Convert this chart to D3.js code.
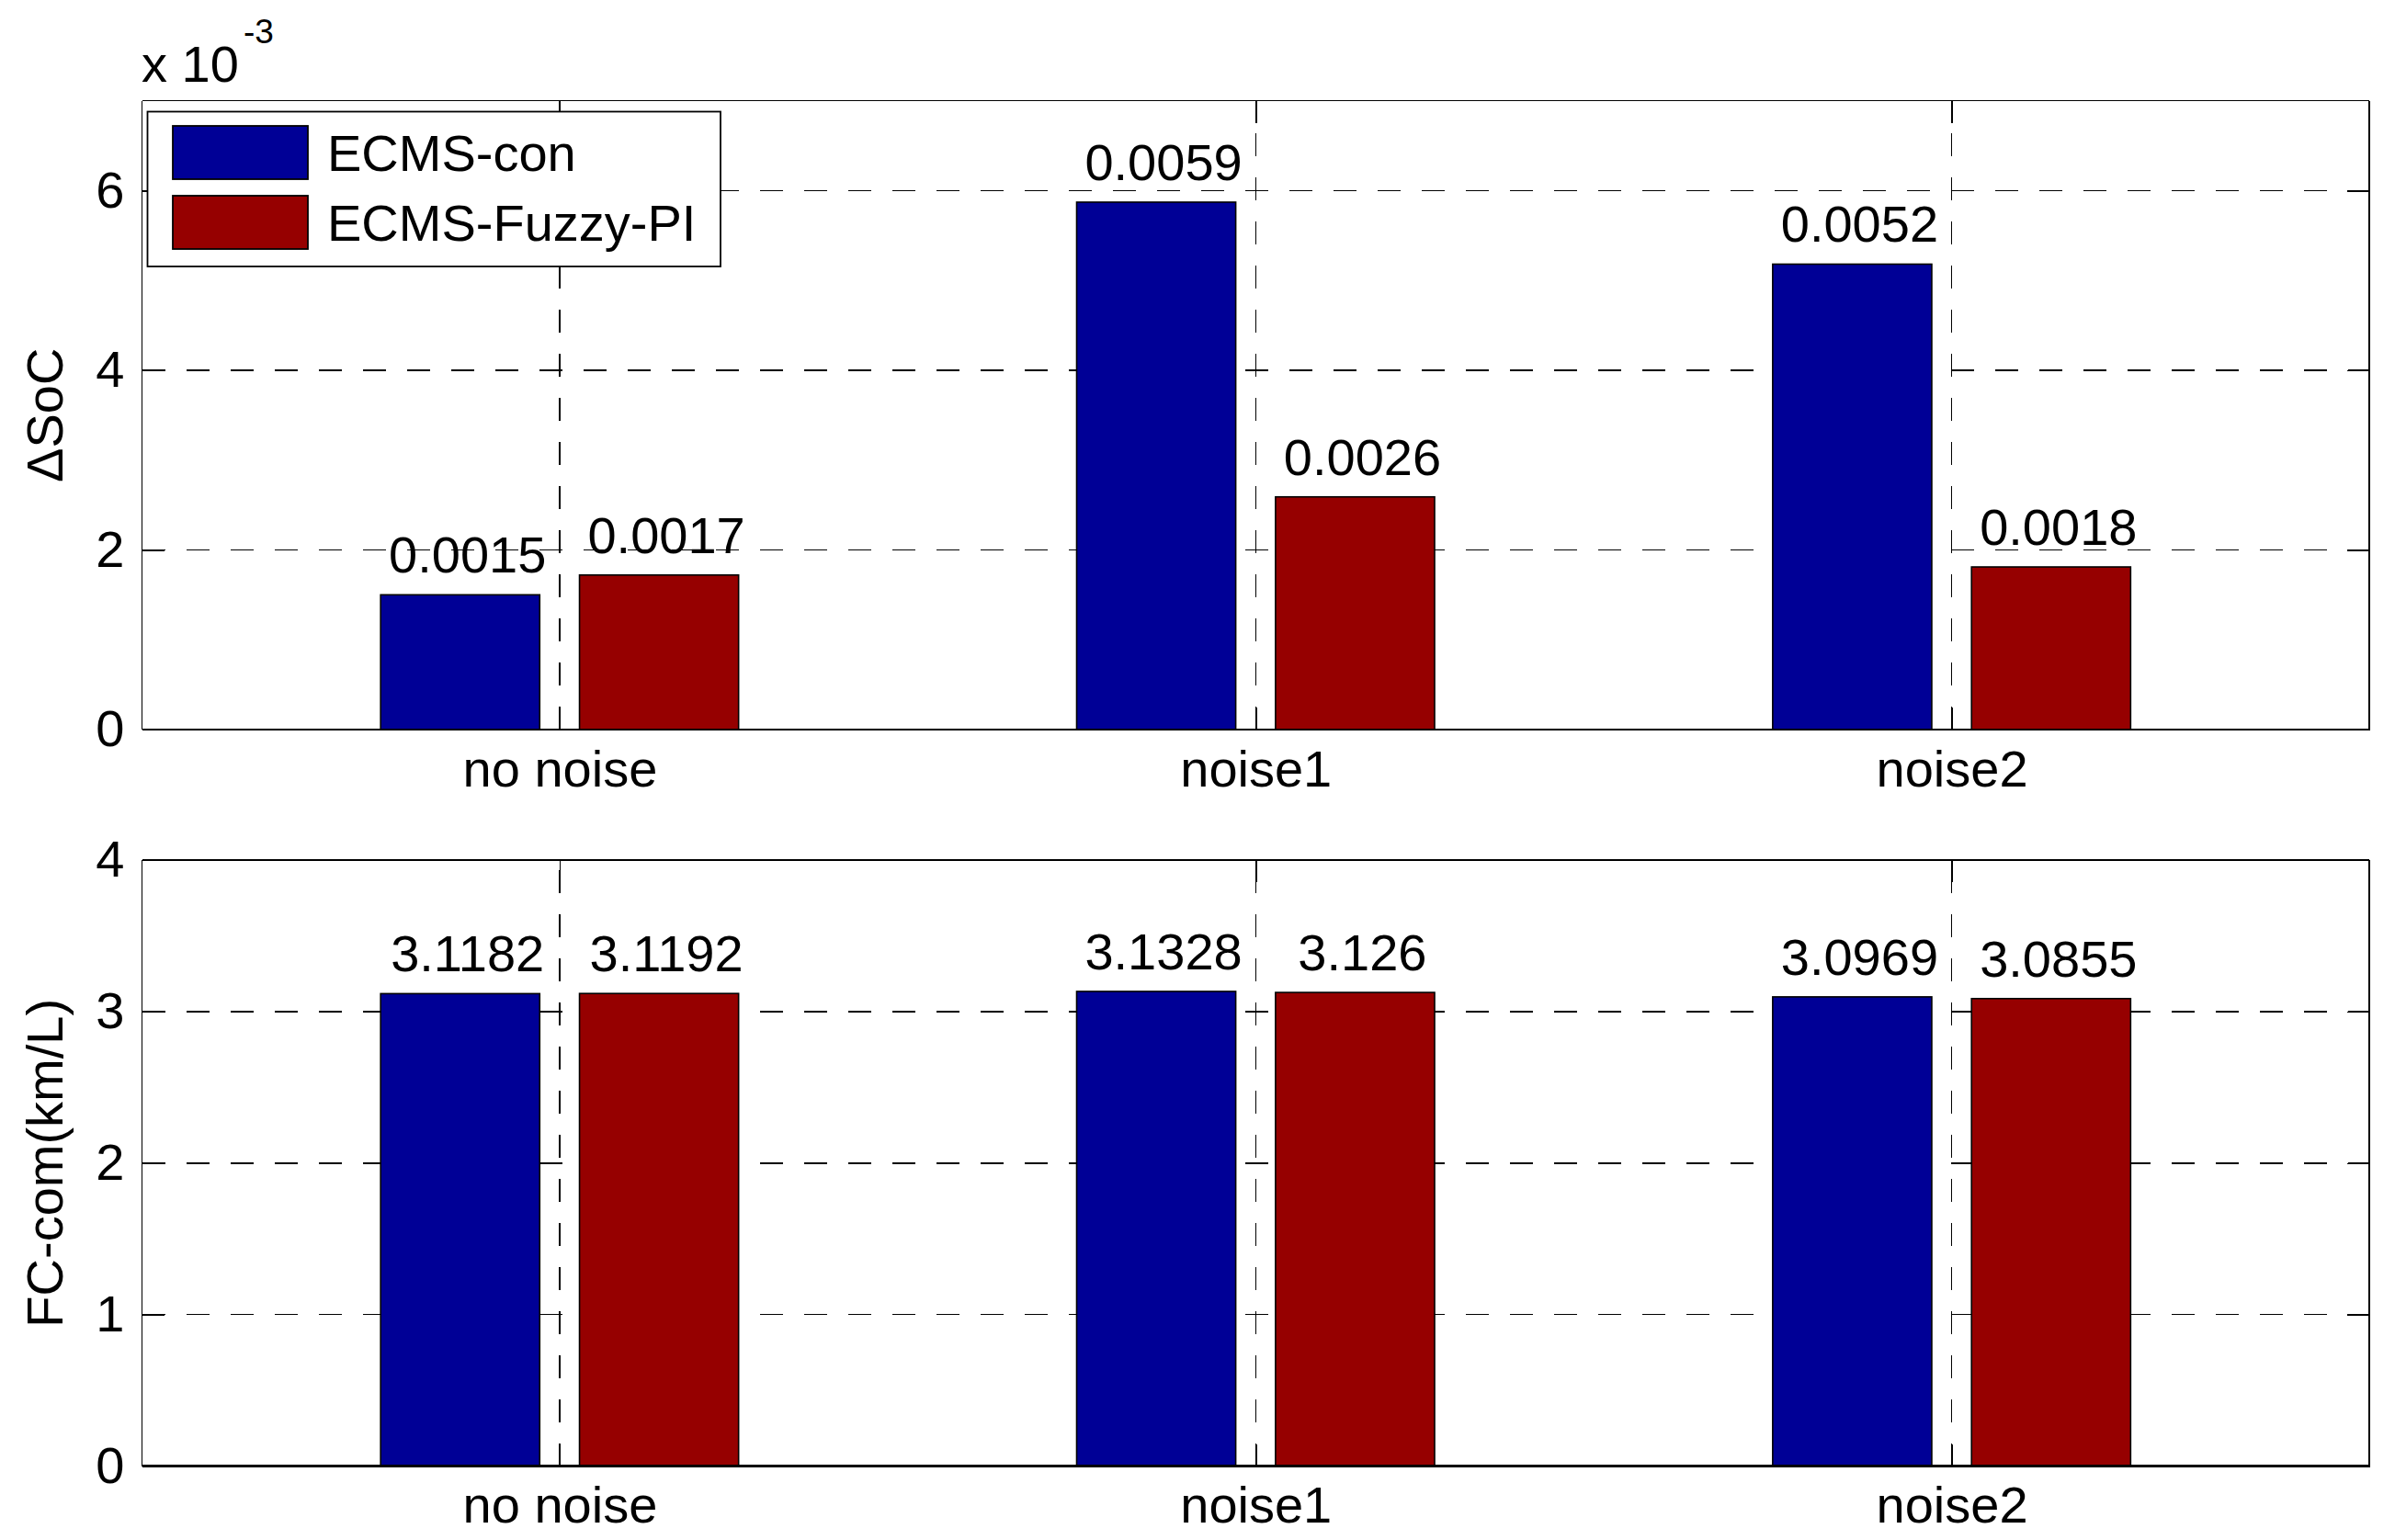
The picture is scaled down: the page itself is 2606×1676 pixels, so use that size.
<!DOCTYPE html>
<html>
<head>
<meta charset="utf-8">
<script src="https://cdn.jsdelivr.net/npm/d3@7"></script>
<style>
  html, body { margin: 0; padding: 0; background: #ffffff; }
  svg { display: block; }
  text { font-family: "Liberation Sans", Arial, sans-serif; fill: #000; }
</style>
</head>
<body>
<script>
// ---------------- data ----------------
const categories = ["no noise", "noise1", "noise2"];
const seriesNames = ["ECMS-con", "ECMS-Fuzzy-PI"];
const seriesColors = ["#000096", "#960000"];

// ΔSoC (absolute units)
const socCon   = [0.00150, 0.00587, 0.00518];
const socFuzzy = [0.00172, 0.00259, 0.00181];
const socTicks = [0, 0.002, 0.004, 0.006];
const socDomain = [0, 0.007];

// FC-com (km/L)
const fcCon   = [3.1182, 3.1328, 3.0969];
const fcFuzzy = [3.1192, 3.1260, 3.0855];
const fcTicks = [0, 1, 2, 3, 4];
const fcDomain = [0, 4];

// ---------------- layout ----------------
const W = 2606, H = 1676;
const FONT = 56;
const TICK = 24;
const DASH = "25,23";
const groupWidth = 2 / 3.5;
const barW = groupWidth / 2 * 0.8;
const offsets = [-groupWidth / 4, groupWidth / 4];

const svg = d3.select("body").append("svg")
  .attr("width", W).attr("height", H)
  .attr("viewBox", `0 0 ${W} ${H}`);
svg.append("rect").attr("width", W).attr("height", H).attr("fill", "#fff");

function panel(cfg) {
  const g = svg.append("g");
  const x = d3.scaleLinear().domain([0.4, 3.6]).range([cfg.x0, cfg.x1]);
  const y = d3.scaleLinear().domain(cfg.domain).range([cfg.y1, cfg.y0]);

  // grid lines (behind bars)
  const grid = g.append("g").attr("stroke", "#000").attr("stroke-width", 1.5)
    .attr("shape-rendering", "crispEdges")
    .attr("stroke-dasharray", DASH).attr("fill", "none");
  grid.selectAll("line.h")
    .data(cfg.ticks.filter(t => t > cfg.domain[0] && t < cfg.domain[1]))
    .join("line").attr("class", "h")
    .attr("x1", cfg.x0).attr("x2", cfg.x1)
    .attr("y1", d => y(d)).attr("y2", d => y(d));
  grid.selectAll("line.v")
    .data([1, 2, 3])
    .join("line").attr("class", "v")
    .attr("x1", d => x(d)).attr("x2", d => x(d))
    .attr("y1", cfg.y1).attr("y2", cfg.y0);

  // bars
  cfg.series.forEach((vals, s) => {
    g.append("g").selectAll("rect")
      .data(vals)
      .join("rect")
      .attr("x", (d, i) => x(i + 1 + offsets[s] - barW / 2))
      .attr("width", (d, i) => x(i + 1 + offsets[s] + barW / 2) - x(i + 1 + offsets[s] - barW / 2))
      .attr("y", d => y(d))
      .attr("height", d => y(cfg.domain[0]) - y(d))
      .attr("fill", seriesColors[s])
      .attr("stroke", "#000")
      .attr("stroke-width", 1.6);
  });

  // axes
  const styleAxis = sel => {
    sel.select(".domain").remove();
    sel.selectAll(".tick line").attr("stroke", "#000").attr("stroke-width", 1.5)
      .attr("shape-rendering", "crispEdges");
    sel.selectAll("text")
      .attr("font-family", "'Liberation Sans', Arial, sans-serif")
      .attr("font-size", FONT).attr("fill", "#000");
    sel.attr("font-size", FONT).attr("font-family", "'Liberation Sans', Arial, sans-serif");
  };
  g.append("g").attr("transform", `translate(${cfg.x0},0)`)
    .call(d3.axisLeft(y).tickValues(cfg.ticks).tickFormat(cfg.tickFmt)
      .tickSizeInner(-TICK).tickSizeOuter(0).tickPadding(19))
    .call(styleAxis);
  g.append("g").attr("transform", `translate(${cfg.x1},0)`)
    .call(d3.axisRight(y).tickValues(cfg.ticks).tickFormat("")
      .tickSizeInner(-TICK).tickSizeOuter(0))
    .call(styleAxis);
  g.append("g").attr("transform", `translate(0,${cfg.y1})`)
    .call(d3.axisBottom(x).tickValues([1, 2, 3]).tickFormat(d => categories[d - 1])
      .tickSizeInner(-TICK).tickSizeOuter(0).tickPadding(22))
    .call(styleAxis);
  g.append("g").attr("transform", `translate(0,${cfg.y0})`)
    .call(d3.axisTop(x).tickValues([1, 2, 3]).tickFormat("")
      .tickSizeInner(-TICK).tickSizeOuter(0))
    .call(styleAxis);

  // box
  const box = g.append("g").attr("stroke", "#000").attr("shape-rendering", "crispEdges");
  box.append("line").attr("x1", cfg.x0).attr("x2", cfg.x1).attr("y1", cfg.y0).attr("y2", cfg.y0).attr("stroke-width", 1.5);
  box.append("line").attr("x1", cfg.x0).attr("x2", cfg.x0).attr("y1", cfg.y0).attr("y2", cfg.y1).attr("stroke-width", 1.5);
  box.append("line").attr("x1", cfg.x0).attr("x2", cfg.x1 + 1).attr("y1", cfg.y1).attr("y2", cfg.y1).attr("stroke-width", 2.5);
  box.append("line").attr("x1", cfg.x1).attr("x2", cfg.x1).attr("y1", cfg.y0).attr("y2", cfg.y1).attr("stroke-width", 2.5);

  // value labels
  cfg.series.forEach((vals, s) => {
    g.append("g").selectAll("text")
      .data(vals)
      .join("text")
      .attr("x", (d, i) => x(i + 1 + offsets[s]) + 8)
      .attr("y", d => y(d) - 24)
      .attr("text-anchor", "middle")
      .attr("font-size", FONT)
      .text(d => cfg.valueFmt(d));
  });

  // y label
  g.append("text")
    .attr("transform", `translate(68,${(cfg.y0 + cfg.y1) / 2}) rotate(-90)`)
    .attr("text-anchor", "middle")
    .attr("font-size", FONT)
    .text(cfg.yLabel);

  return { x, y, g };
}

const socPanel = panel({
  x0: 154.5, x1: 2578, y0: 109.5, y1: 794,
  domain: socDomain, ticks: socTicks,
  tickFmt: d => d3.format("d")(Math.round(d * 1000)),
  series: [socCon, socFuzzy],
  valueFmt: d3.format(".4f"),
  yLabel: "\u0394SoC"
});

const fcPanel = panel({
  x0: 154.5, x1: 2578, y0: 936, y1: 1595.5,
  domain: fcDomain, ticks: fcTicks,
  tickFmt: d => String(d),
  series: [fcCon, fcFuzzy],
  valueFmt: d => String(d),
  yLabel: "FC-com(km/L)"
});

// exponent label
svg.append("text").attr("x", 154).attr("y", 89).attr("font-size", FONT).text("x 10");
svg.append("text").attr("x", 265).attr("y", 47).attr("font-size", 37).text("-3");

// legend
const lg = svg.append("g");
lg.append("rect").attr("x", 160.5).attr("y", 121.5).attr("width", 623.5).attr("height", 168.5)
  .attr("fill", "#fff").attr("stroke", "#000").attr("stroke-width", 1.8);
const legendRows = [166, 242];
seriesNames.forEach((name, s) => {
  lg.append("rect").attr("x", 188).attr("y", legendRows[s] - 29).attr("width", 147).attr("height", 58)
    .attr("fill", seriesColors[s]).attr("stroke", "#000").attr("stroke-width", 1.8);
  lg.append("text").attr("x", 356).attr("y", legendRows[s] + 20).attr("font-size", FONT).text(name);
});
</script>
</body>
</html>
